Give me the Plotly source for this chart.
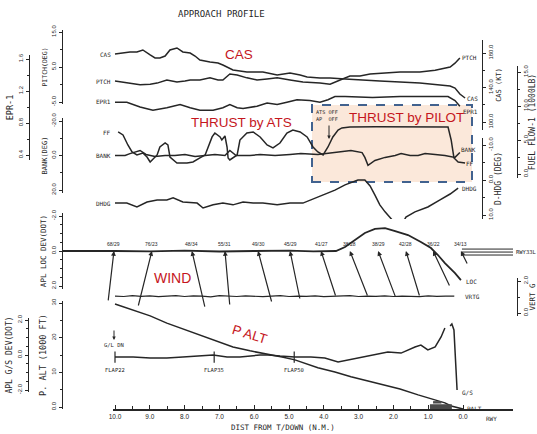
import plotly.graph_objects as go

W, H = 537, 434
INK = "#262626"
RED = "#c5161d"
MONO = "DejaVu Sans Mono"
SANS = "Liberation Sans"

# ---------------- data (distance from touchdown in N.M.) ----------------
cas_d = [10.0, 9.77, 9.57, 9.37, 9.20, 8.99, 8.85, 8.71, 8.56, 8.42, 8.22, 8.05, 7.84, 7.70, 7.56,
         7.27, 7.04, 6.90, 6.61, 6.21, 5.75, 5.34, 4.97, 4.68, 4.48, 4.11, 3.82, 3.39, 2.96, 2.39,
         1.81, 1.24, 0.66, 0.37, 0.23, 0.09, -0.06]
cas_kt = [178.8, 180.0, 181.2, 181.2, 183.5, 177.7, 174.2, 174.2, 176.5, 183.5, 185.8, 181.2, 180.0,
          176.5, 171.9, 169.6, 168.4, 166.1, 160.3, 158.0, 158.0, 154.5, 156.8, 154.5, 152.2, 151.0,
          151.0, 149.9, 148.7, 147.5, 146.4, 145.2, 142.9, 141.8, 139.4, 132.5, 127.8]

ptch_d = [10.0, 9.80, 9.57, 9.28, 8.99, 8.79, 8.51, 8.22, 7.99, 7.84, 7.56, 7.27, 7.04, 6.90, 6.70,
          6.49, 6.21, 5.92, 5.63, 5.34, 4.97, 4.60, 4.11, 3.82, 3.53, 3.25, 2.96, 2.67, 2.24, 1.81,
          1.24, 0.80, 0.37, 0.23, 0.09]
ptch_deg = [1.0, 0.7, 0.4, -0.1, 0.1, 0.4, 1.3, 0.7, 1.0, 1.3, 1.3, 1.9, 1.3, 1.3, 3.0, 2.7, 1.9, 1.3,
            1.6, 1.9, 1.3, 0.7, 0.4, 0.1, 1.3, 2.4, 2.4, 3.0, 3.3, 3.6, 3.6, 4.1, 5.0, 6.1, 7.6]

epr_d = [10.0, 9.66, 9.28, 8.91, 8.51, 8.13, 7.84, 7.56, 7.18, 6.90, 6.70, 6.49, 6.32, 5.92, 5.63,
         5.34, 5.06, 4.77, 4.40, 4.11, 3.88, 3.68, 3.39, 2.60, 1.81, 1.20, 0.43, 0.23, 0.09]
epr_val = [1.06, 1.06, 1.00, 0.96, 0.99, 1.03, 0.99, 0.96, 0.96, 0.99, 1.03, 0.99, 0.98, 1.01, 1.05,
           1.03, 1.06, 1.09, 1.08, 1.06, 1.09, 1.13, 1.13, 1.12, 1.13, 1.13, 1.13, 1.08, 1.01]

ff_d = [9.91, 9.77, 9.63, 9.51, 9.37, 9.20, 9.08, 8.99, 8.79, 8.71, 8.56, 8.48, 8.42, 8.22, 7.93,
        7.76, 7.56, 7.41, 7.21, 7.13, 6.98, 6.93, 6.84, 6.78, 6.75, 6.70, 6.49, 6.41, 6.21, 6.03,
        5.83, 5.63, 5.46, 5.26, 5.06, 4.89, 4.68, 4.48, 4.31, 4.17, 4.02, 3.88, 3.74, 3.59, 3.48,
        3.25, 2.50, 1.50, 0.43, 0.34, 0.26, 0.14, -0.06]
ff_klb = [6.18, 5.74, 4.27, 3.24, 2.80, 3.09, 2.50, 1.77, 2.80, 3.97, 4.56, 4.27, 2.50, 1.62, 1.62,
          1.77, 2.36, 2.80, 5.45, 6.03, 5.45, 5.00, 5.59, 3.97, 2.36, 2.06, 2.80, 5.00, 6.03, 6.18,
          5.45, 4.27, 3.83, 4.56, 6.03, 6.47, 6.18, 5.45, 3.97, 3.24, 2.80, 3.97, 5.45, 6.47, 6.77,
          6.91, 6.95, 6.90, 6.91, 5.00, 2.36, 1.77, 1.62]

bank_d = [10.0, 9.71, 9.57, 9.28, 9.11, 8.85, 8.56, 8.28, 7.99, 7.70, 7.41, 7.13, 6.84, 6.70, 6.52,
          6.12, 5.83, 5.40, 4.97, 4.66, 4.17, 3.68, 3.22, 2.90, 2.82, 2.73, 2.53, 2.24, 1.95, 1.78,
          1.52, 1.29, 1.09, 0.80, 0.52, 0.23, 0.09]
bank_deg = [0, 0, -1.1, -2.9, -0.6, 0.6, 0, 0, -0.6, 0.6, 0, -0.6, 0, -2.9, 0, 0, -0.6, 0, -0.6, -1.1,
            -0.6, -1.7, -2.9, -1.7, 1.1, 5.7, 2.9, 1.1, 0, -1.1, 0, 0, -1.1, -0.6, 0, 1.1, -1.7]

dhdg_d = [10.0, 9.66, 9.37, 9.08, 8.79, 8.51, 8.33, 8.05, 7.64, 7.47, 7.18, 6.90, 6.61, 6.32, 6.03,
          5.75, 5.34, 4.97, 4.60, 4.37, 4.17, 3.68, 3.39, 3.02, 2.82, 2.67, 2.53, 2.39, 2.24, 2.10,
          1.93, 1.75, 1.64, 1.38, 1.01, 0.66, 0.37, 0.14]
dhdg_deg = [6.6, 6.6, 7.7, 6.3, 5.7, 5.7, 5.1, 6.3, 6.6, 8.0, 7.1, 6.6, 7.1, 6.3, 6.6, 6.6, 7.1, 6.6,
            6.6, 5.7, 4.9, 2.9, 1.4, 0.0, 0.0, 1.7, 4.3, 7.1, 9.1, 10.6, 12.6, 12.6, 10.6, 9.1, 7.7,
            5.7, 4.0, 2.3]

loc_d = [10.0, 9.0, 8.0, 7.0, 6.0, 5.0, 4.3, 3.65, 3.39, 3.10, 2.82, 2.53, 2.24, 1.95, 1.58, 1.21,
         0.92, 0.72, 0.52, 0.23, 0.06]
loc_dot = [0.0, 0.02, -0.02, 0.03, 0.0, -0.02, 0.02, 0.0, -0.23, -0.63, -1.03, -1.26, -1.31, -1.14,
           -0.91, -0.51, -0.17, 0.23, 0.69, 1.26, 1.66]

vrtg_d = [10.0, 9.75, 9.5, 9.25, 9.0, 8.75, 8.5, 8.25, 8.0, 7.75, 7.5, 7.25, 7.0, 6.75, 6.5, 6.25,
          6.0, 5.75, 5.5, 5.25, 5.0, 4.75, 4.5, 4.25, 4.0, 3.75, 3.5, 3.25, 3.0, 2.75, 2.5, 2.25,
          2.0, 1.75, 1.5, 1.25, 1.0, 0.75, 0.5, 0.25]
vrtg_g = [1.06, 1.03, 1.08, 1.04, 1.07, 1.02, 1.06, 1.09, 1.03, 1.07, 1.05, 1.01, 1.08, 1.05, 1.03,
          1.07, 1.04, 1.02, 1.06, 1.08, 1.03, 1.06, 1.04, 1.07, 1.02, 1.05, 1.04, 1.08, 1.03, 1.06,
          1.04, 1.07, 1.03, 1.06, 1.04, 1.02, 1.07, 1.04, 1.06, 1.05]

gs_d = [10.0, 9.48, 8.99, 8.51, 8.05, 7.56, 7.18, 6.78, 6.41, 5.83, 5.60, 5.26, 4.83, 4.37, 3.97,
        3.59, 3.30, 2.93, 2.53, 2.16, 1.78, 1.58, 1.38, 1.21, 1.01, 0.80, 0.63, 0.52, None, 0.37,
        0.32, 0.26, 0.23, 0.20, 0.17]
gs_dot = [-0.11, -0.11, -0.17, -0.17, -0.11, -0.06, 0.0, -0.11, -0.11, 0.0, 0.0, -0.06, -0.11, -0.11,
          -0.17, -0.40, -0.29, -0.11, 0.0, 0.17, 0.11, 0.29, 0.46, 0.57, 0.29, 0.46, 1.03, 1.54, None,
          1.66, 1.77, 1.43, 0.57, -0.86, -2.0]

palt_d = [10.0, 9.48, 8.99, 8.51, 8.05, 7.56, 7.07, 6.61, 6.12, 5.60, 5.20, 4.83, 4.17, 3.68, 3.22,
          2.73, 2.24, 1.81, 1.29, 0.80, 0.52, 0.34, 0.14, 0.0]
palt_kft = [29.7, 28.0, 26.3, 24.2, 22.5, 20.8, 19.0, 17.3, 16.2, 15.3, 14.4, 13.6, 11.3, 10.1, 8.7,
            7.5, 6.3, 5.2, 3.5, 2.0, 1.2, 0.3, -0.3, -0.6]

wind_labels = ["68/29", "76/23", "48/34", "55/31", "49/30", "45/29", "41/27", "38/28", "38/29",
               "42/28", "36/22", "34/13"]
wind_head_d = [10.03, 8.94, 7.79, 6.84, 5.89, 4.97, 4.08, 3.25, 2.44, 1.64, 0.86, 0.06]
wind_tail_d = [10.20, 9.34, 7.41, 6.70, 5.49, 4.68, 3.65, 2.73, 1.93, 1.24, 0.37, -0.14]
wind_tail_loc = [2.91, 3.20, 3.26, 3.14, 2.97, 2.80, 2.63, 2.63, 2.68, 2.63, 2.06, 0.80]

flap_d = [10.0, 7.15, 4.85]
flap_labels = ["FLAP22", "FLAP35", "FLAP50"]

rwy_d = [0.03, -1.5]
rwy_loc = [-0.11, 0.06, 0.23]

x_ticks = [0, 1, 2, 3, 4, 5, 6, 7, 8, 9, 10]
x_ticktext = ["0.0", "1.0", "2.0", "3.0", "4.0", "5.0", "6.0", "7.0", "8.0", "9.0", "10.0"]
x_minor = [0.5, 1.5, 2.5, 3.5, 4.5, 5.5, 6.5, 7.5, 8.5, 9.5]


# ---------------- helpers (layout geometry in page pixels) ----------------
def pxx(px):
    return px / W


def pxy(py):
    return 1 - py / H


def lin(v1, p1, v2, p2):
    k = (v2 - v1) / (p2 - p1)
    return lambda p: v1 + (p - p1) * k


def yframe(v1, p1, v2, p2, ptop, pbot):
    f = lin(v1, p1, v2, p2)
    return dict(domain=[pxy(pbot), pxy(ptop)], range=[f(pbot), f(ptop)])


def yax(frame, xpos, side, title, tsize, tickvals, ticktext, minor):
    d = dict(anchor="free", position=pxx(xpos), side=side,
             showline=True, linecolor=INK, linewidth=1.3,
             ticks="outside", ticklen=3, tickwidth=1, tickcolor=INK,
             tickmode="array", tickvals=tickvals, ticktext=ticktext, tickangle=-90,
             tickfont=dict(family=SANS, size=6, color=INK),
             minor=dict(tickvals=minor, ticks="outside", ticklen=2, tickcolor=INK, showgrid=False),
             showgrid=False, zeroline=False, fixedrange=True,
             title=dict(text=title, font=dict(family=MONO, size=tsize, color=INK), standoff=2))
    d.update(frame)
    return d


def line(x, y, yref, width=1.5):
    return go.Scatter(x=x, y=y, xaxis="x", yaxis=yref, mode="lines",
                      line=dict(color=INK, width=width), hoverinfo="skip",
                      showlegend=False, connectgaps=False)


fig = go.Figure()
fig.add_trace(line(epr_d, epr_val, "y"))
fig.add_trace(line(ptch_d, ptch_deg, "y2"))
fig.add_trace(line(bank_d, bank_deg, "y3"))
fig.add_trace(line(loc_d, loc_dot, "y4", 1.8))
fig.add_trace(line(palt_d, palt_kft, "y5"))
fig.add_trace(line(gs_d, gs_dot, "y6"))
fig.add_trace(line(cas_d, cas_kt, "y7"))
fig.add_trace(line(ff_d, ff_klb, "y8"))
fig.add_trace(line(dhdg_d, dhdg_deg, "y9"))
fig.add_trace(line(vrtg_d, vrtg_g, "y10", 1.2))

fx, fy = [], []
for d in flap_d:
    fx += [d, d, None]
    fy += [0.2, -0.45, None]
fig.add_trace(line(fx, fy, "y6", 1.2))

rx, ry = [], []
for off in rwy_loc:
    rx += [rwy_d[0], rwy_d[1], None]
    ry += [off, off, None]
fig.add_trace(line(rx, ry, "y4", 1.0))

xf = lin(10.0, 115, 0.0, 463)
layout = dict(
    width=W, height=H, margin=dict(l=0, r=0, t=0, b=0), autosize=False,
    template="none", paper_bgcolor="white", plot_bgcolor="rgba(0,0,0,0)",
    showlegend=False,
    xaxis=dict(domain=[pxx(113), pxx(513)], range=[xf(113), xf(513)],
               anchor="free", position=pxy(410),
               showline=True, linecolor=INK, linewidth=1.6,
               ticks="inside", ticklen=4, tickwidth=1, tickcolor=INK,
               tickmode="array", tickvals=x_ticks, ticktext=x_ticktext,
               tickfont=dict(family=SANS, size=6.5, color=INK),
               minor=dict(tickvals=x_minor, ticks="inside", ticklen=3, tickcolor=INK, showgrid=False),
               showgrid=False, zeroline=False, fixedrange=True),
    yaxis=yax(yframe(1.6, 59, 0.4, 155, 55, 160), 29, "left", "EPR-1", 8.5,
              [0.4, 0.8, 1.2, 1.6], ["0.4", "0.8", "1.2", "1.6"], [0.6, 1.0, 1.4]),
    yaxis2=yax(yframe(15, 32, -5, 102, 30, 104), 62, "left", "PITCH(DEG)", 6.5,
               [-5, 5, 15], ["-5.0", "5.0", "15.0"], [0, 10]),
    yaxis3=yax(yframe(-20, 121, 20, 190, 118, 193), 62, "left", "BANK(DEG)", 7,
               [-20, 0, 20], ["-20.0", "0.0", "20.0"], [-10, 10]),
    yaxis4=yax(yframe(-2, 216, 2, 286, 213, 289), 62, "left", "APL LOC DEV(DOT)", 7.5,
               [-2, 0, 2], ["-2.0", "0.0", "2.0"], [-1.5, -1, -0.5, 0.5, 1, 1.5]),
    yaxis5=yax(yframe(0, 407, 30, 303, 301, 409), 62, "left", "P. ALT (1000 FT)", 8.5,
               [0, 10, 20, 30], ["0.0", "10", "20", "30"], [5, 15, 25]),
    yaxis6=yax(yframe(2, 320, -2, 390, 318, 392), 28, "left", "APL G/S DEV(DOT)", 8,
               [-2, 0, 2], ["-2.0", "0.0", "2.0"], [-1.5, -1, -0.5, 0.5, 1, 1.5]),
    yaxis7=yax(yframe(180, 53, 100, 122, 40, 130), 482, "right", "CAS (KT)", 7,
               [100, 140, 180], ["100.0", "140.0", "180.0"], [120, 160]),
    yaxis8=yax(yframe(15, 72, 0, 174, 66, 178), 517, "right", "FUEL FLOW-1 (1000LB)", 8,
               [0, 5, 10, 15], ["0.0", "5.0", "10.0", "15.0"], [2.5, 7.5, 12.5]),
    yaxis9=yax(yframe(-10, 145, 10, 215, 138, 219), 482, "right", "D-HDG (DEG)", 8,
               [-10, 0, 10], ["-10.0", "0.0", "10.0"], [-5, 5]),
    yaxis10=yax(yframe(2, 281, 0, 313, 278, 316), 517, "right", "VERT G", 7.5,
                [0, 2], ["0.0", "2.0"], [1]),
)
fig.update_layout(**layout)

shapes = [
    dict(type="rect", xref="paper", yref="paper", x0=pxx(312), x1=pxx(472), y0=pxy(182), y1=pxy(105),
         fillcolor="#fbe8da", line=dict(color="#41628f", width=2, dash="dash"), layer="below"),
    dict(type="line", xref="paper", yref="y4", x0=pxx(62), x1=pxx(116), y0=0, y1=0,
         line=dict(color=INK, width=1.8)),
    dict(type="rect", xref="x", yref="y5", x0=0.95, x1=0.32, y0=-0.6, y1=0.8,
         fillcolor="#4a4a4a", line=dict(width=0)),
    dict(type="rect", xref="x", yref="y5", x0=0.86, x1=0.62, y0=1.0, y1=1.7,
         fillcolor="#4a4a4a", line=dict(width=0)),
]
fig.update_layout(shapes=shapes)

ann = []


def note(text, x, y, size=6.5, xanchor="center", color=INK, family=MONO, angle=0):
    ann.append(dict(text=text, x=pxx(x), y=pxy(y), xref="paper", yref="paper", showarrow=False,
                    xanchor=xanchor, yanchor="middle", textangle=angle,
                    font=dict(family=family, size=size, color=color)))


note("APPROACH PROFILE", 221, 14, 9)
note("DIST FROM T/DOWN (N.M.)", 283, 427, 7.5)
note("RWY", 491, 418, 6)

# trace labels, left
for t, y in [("CAS", 54), ("PTCH", 81), ("EPR1", 102), ("FF", 133), ("BANK", 155), ("DHDG", 204)]:
    note(t, 113, y, 6, xanchor="right")
# trace labels, right
for t, x, y in [("PTCH", 460, 57), ("CAS", 465, 98), ("EPR1", 461, 111), ("BANK", 459, 149),
                ("FF", 464, 163), ("DHDG", 460, 188), ("LOC", 464, 281), ("VRTG", 463, 296),
                ("G/S", 460, 392), ("PALT", 465, 408)]:
    note(t, x, y, 6, xanchor="left")
note("RWY33L", 514, 252, 5.5, xanchor="left")
note("ATS OFF<br>AP  OFF", 327, 115, 5.2)
note("G/L DN", 114, 345, 5.5)

# red overlay texts
note("CAS", 239, 55, 13.5, color=RED, family=SANS)
note("THRUST by ATS", 241, 123, 13.5, color=RED, family=SANS)
note("THRUST by PILOT", 406, 117, 13.5, color=RED, family=SANS)
note("WIND", 172, 278, 14, color=RED, family=SANS)
note("P ALT", 250, 334, 13.5, color=RED, family=SANS, angle=17)

# small arrows
ann.append(dict(text="", x=pxx(329), y=pxy(139), xref="paper", yref="paper", ax=0, ay=-15,
                showarrow=True, arrowhead=2, arrowsize=0.7, arrowwidth=1, arrowcolor=INK))
ann.append(dict(text="", x=pxx(114), y=pxy(340), xref="paper", yref="paper", ax=0, ay=-11,
                showarrow=True, arrowhead=2, arrowsize=0.7, arrowwidth=1, arrowcolor=INK))

# wind barbs
for lab, hd, td, tl in zip(wind_labels, wind_head_d, wind_tail_d, wind_tail_loc):
    ann.append(dict(text="", x=hd, y=0, xref="x", yref="y4", axref="x", ayref="y4", ax=td, ay=tl,
                    showarrow=True, arrowhead=2, arrowsize=0.8, arrowwidth=1.2, arrowcolor=INK,
                    standoff=0))
    ann.append(dict(text=lab, x=hd, y=-0.12, xref="x", yref="y4", showarrow=False,
                    yanchor="bottom", font=dict(family=SANS, size=5, color=INK)))

# flap labels
for d, lab in zip(flap_d, flap_labels):
    ann.append(dict(text=lab, x=d, y=-0.55, xref="x", yref="y6", showarrow=False,
                    yanchor="top", font=dict(family=MONO, size=5.5, color=INK)))

fig.update_layout(annotations=ann)
fig.write_html("out.html")
